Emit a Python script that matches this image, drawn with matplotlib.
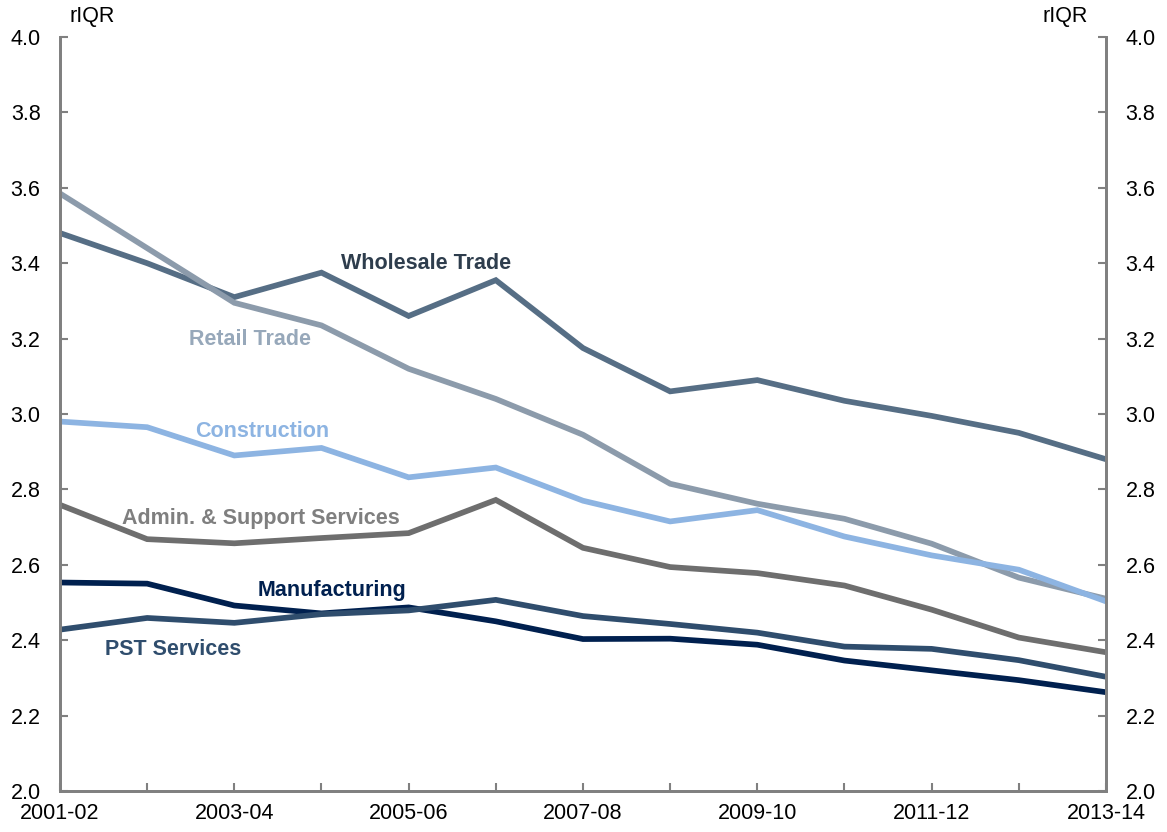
import numpy as np
import matplotlib.pyplot as plt

plt.rcParams['font.family'] = ['Liberation Sans', 'DejaVu Sans']

years = ['2001-02', '2002-03', '2003-04', '2004-05', '2005-06', '2006-07', '2007-08',
         '2008-09', '2009-10', '2010-11', '2011-12', '2012-13', '2013-14']

wholesale = [3.48, 3.40, 3.31, 3.375, 3.26, 3.355, 3.175, 3.06, 3.09, 3.035, 2.995, 2.95, 2.88]
retail = [3.585, 3.44, 3.295, 3.235, 3.12, 3.04, 2.945, 2.815, 2.762, 2.722, 2.656, 2.566, 2.51]
construction = [2.98, 2.965, 2.89, 2.91, 2.832, 2.858, 2.77, 2.715, 2.745, 2.675, 2.625, 2.587, 2.503]
admin = [2.759, 2.668, 2.657, 2.671, 2.684, 2.772, 2.645, 2.594, 2.578, 2.545, 2.481, 2.407, 2.368]
manufacturing = [2.553, 2.55, 2.492, 2.471, 2.487, 2.45, 2.403, 2.404, 2.388, 2.346, 2.32, 2.294, 2.262]
pst = [2.428, 2.459, 2.446, 2.469, 2.479, 2.507, 2.464, 2.443, 2.42, 2.383, 2.377, 2.347, 2.303]

series = [
    # name, values, line colour, label colour, label x (index), label y
    ('Wholesale Trade', wholesale, '#566e85', '#2e3d4d', 4.2, 3.40),
    ('Retail Trade', retail, '#8c9bab', '#97a8ba', 2.18, 3.198),
    ('Construction', construction, '#8db4e2', '#8db4e2', 2.32, 2.953),
    ('Admin. & Support Services', admin, '#6e6e6e', '#7f7f7f', 2.31, 2.723),
    ('Manufacturing', manufacturing, '#00204f', '#00204f', 3.12, 2.533),
    ('PST Services', pst, '#2f4d6d', '#2f4d6d', 1.3, 2.374),
]

fs = 15.5

fig = plt.figure(figsize=(11.67, 8.32), dpi=100)
ax = fig.add_axes([0.0514, 0.0493, 0.8963, 0.9062])
x = np.arange(len(years))

for name, vals, col, lcol, lx, ly in series:
    ax.plot(x, vals, color=col, lw=4.1, solid_joinstyle='miter')
    ax.text(lx, ly, name, color=lcol, fontsize=fs, fontweight='bold',
            ha='center', va='center')

yt = np.arange(2.0, 4.01, 0.2)
ax.set_xlim(0, len(years) - 1)
ax.set_ylim(2.0, 4.0)
ax.set_yticks(yt)
ax.set_yticklabels([f'{v:.1f}' for v in yt])
ax.set_xticks(x)
ax.set_xticklabels([y if i % 2 == 0 else '' for i, y in enumerate(years)])

ax2 = ax.twinx()
ax2.set_ylim(ax.get_ylim())
ax2.set_yticks(yt)
ax2.set_yticklabels([f'{v:.1f}' for v in yt])

for a in (ax, ax2):
    a.spines['top'].set_visible(False)
    for s in ('left', 'right', 'bottom'):
        a.spines[s].set_color('#808080')
        a.spines[s].set_linewidth(2)
    a.tick_params(direction='in', length=6, width=1.5, color='#808080',
                  labelsize=fs, labelcolor='black', pad=14)
ax.tick_params(axis='x', pad=9)

ax.text(0.009, 1.013, 'rIQR', transform=ax.transAxes, fontsize=fs,
        ha='left', va='bottom')
ax.text(0.983, 1.013, 'rIQR', transform=ax.transAxes, fontsize=fs,
        ha='right', va='bottom')

fig.savefig('out.png', dpi=100)
